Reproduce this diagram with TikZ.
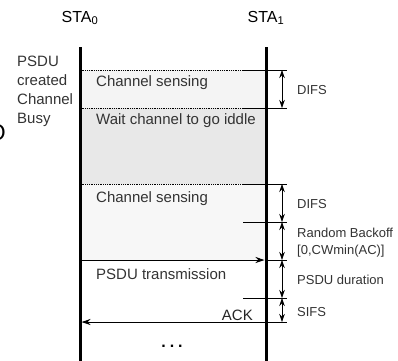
\documentclass[tikz,border=0pt]{standalone}
\usepackage{fontspec}
\setmainfont{Liberation Sans}
\usetikzlibrary{positioning,arrows.meta,calc}
\definecolor{textgray}{HTML}{333333}
\definecolor{sensefill}{HTML}{F4F4F4}
\definecolor{waitfill}{HTML}{E8E8E8}
\definecolor{backfill}{HTML}{F7F7F7}

\begin{document}
\begin{tikzpicture}[
			x=1pt,y=-1pt,
			lifeline/.style={line width=3pt},
			sep/.style={densely dotted,line width=0.8pt},
			tick/.style={line width=0.6pt},
			msg/.style={line width=1pt,-{Stealth[length=9pt,width=6pt]}},
			dim/.style={line width=0.6pt,{Stealth[length=8pt,width=5.5pt]}-{Stealth[length=8pt,width=5.5pt]}},
			txt/.style={text=textgray,font=\fontsize{15}{19}\selectfont,inner sep=0pt,anchor=west},
			lbl/.style={text=textgray,font=\fontsize{13}{15}\selectfont,inner sep=0pt,anchor=west},
			>=Stealth
			]
			\useasboundingbox (0,0) rectangle (398,360);
			
			% levels on both stations
			\foreach \n/\y in {a/70,b/108,c/184,d/222,e/260,f/298,g/322} {
				\coordinate (L\n) at (81.5,\y);
				\coordinate (R\n) at (264.5,\y);
				\coordinate (T\n) at (243,\y);
				\coordinate (E\n) at (287,\y);
				\coordinate (D\n) at (282,\y);
			}
			
			% phases
			\fill[sensefill] (La) rectangle (Rb);
			\fill[waitfill] (Lb) rectangle (Rc);
			\fill[backfill] (Lc) rectangle (Re);
			
			\draw[sep] (La)--(Ta);
			\draw[sep] (Lb)--(Tb);
			\draw[sep] (Lc)--(Tc);
			\draw[tick] (Ta)--(Ea);
			\draw[tick] (Tb)--(Eb);
			\draw[tick] (Tc)--(Ec);
			\draw[tick] (Td)--(Ed);
			\draw[tick] (Tf)--(Ef);
			\draw[tick] (Re)--(Ee);
			\draw[tick] (Rg)--(Eg);
			
			% stations
			\node[font=\fontsize{16}{18}\selectfont] (sta0) at (80,18) {STA\textsubscript{0}};
			\node[font=\fontsize{16}{18}\selectfont] (sta1) at (266,18) {STA\textsubscript{1}};
			\coordinate (top0) at (80,47);
			\coordinate (bot0) at (80,362);
			\coordinate (top1) at (266,47);
			\coordinate (bot1) at (266,362);
			\draw[lifeline] (top0)--(bot0);
			\draw[lifeline] (top1)--(bot1);
			
			% frames
			\draw[msg] (Le)--(Re);
			\draw[msg] (Rg)--(Lg);
			
			\node[txt] (sense1) at (96,83) {Channel sensing};
			\node[txt] (wait) at (96,121) {Wait channel to go iddle};
			\node[txt] (sense2) at (96,199) {Channel sensing};
			\node[txt] (psdu) at (96,274) {PSDU transmission};
			\node[txt,anchor=east,text=black!85] (ack) at (253,315) {ACK};
			\node[font=\fontsize{16}{18}\bfseries,inner sep=0pt] (more) at (172,346) {.\hspace{4pt}.\hspace{4pt}.};
			
			\node[txt,align=left] (busy) at (17,91) {PSDU\\created\\Channel\\Busy};
			\node[font=\fontsize{23}{26}\selectfont,inner sep=0pt,anchor=east] (cut) at (6,133) {O};
			
			% durations
			\draw[dim] (Da)--(Db);
			\draw[dim] (Dc)--(Dd);
			\draw[dim] (Dd)--(De);
			\draw[dim] (De)--(Df);
			\draw[dim] (Df)--(Dg);
			
			\node[lbl] (difs1) at (297,90) {DIFS};
			\node[lbl] (difs2) at (297,204) {DIFS};
			\node[lbl] (rand) at (297,233) {Random Backoff};
			\node[lbl] (cw) at (297,251) {[0,CWmin(AC)]};
			\node[lbl] (dur) at (297,280) {PSDU duration};
			\node[lbl] (sifs) at (297,312) {SIFS};
			
		\end{tikzpicture}
\end{document}
